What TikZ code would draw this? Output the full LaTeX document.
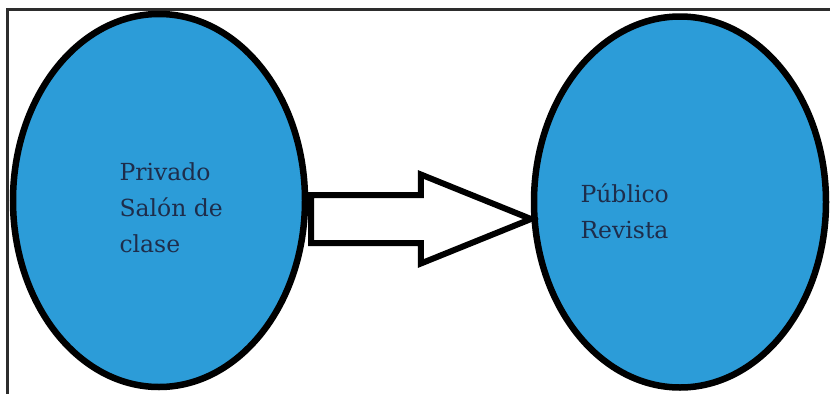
\documentclass[tikz,border=0pt]{standalone}
\usepackage{fontspec}
\setmainfont{DejaVu Serif}
\usetikzlibrary{shapes.geometric,shapes.arrows}
\definecolor{bluefill}{RGB}{44,156,216}
\definecolor{navytext}{RGB}{30,45,75}
\definecolor{framegray}{RGB}{45,45,45}
\tikzset{
  bubble/.style={ellipse, draw=black, fill=bluefill, line width=6.5pt, inner sep=0pt},
  bigarrow/.style={single arrow, draw=black, fill=white, line width=6pt, inner sep=0pt,
    outer sep=0pt, single arrow head extend=20.5pt, single arrow tip angle=44},
  lbl/.style={text=navytext, align=left, anchor=base west,
    font=\fontsize{23.5}{36}\selectfont},
  frameline/.style={draw=framegray, line width=3pt}
}
\begin{document}
\begin{tikzpicture}[x=1pt,y=-1pt]
\useasboundingbox (0,0) rectangle (830,394);
\coordinate (ftr) at (830,9);
\coordinate (ftl) at (7,9);
\coordinate (fbl) at (7,394);
\draw[frameline] (ftr) -- (ftl) -- (fbl);
\node[bubble, minimum width=292pt, minimum height=373pt] (priv) at (159,200.5) {};
\node[bubble, minimum width=292pt, minimum height=371pt] (pub) at (680,202) {};
\node[bigarrow, minimum height=220pt, anchor=tail] (arr) at (311,219) {\rule{0pt}{42pt}};
\node[lbl] (tpriv) at (116,252) {Privado\\Salón de\\clase};
\node[lbl] (tpub) at (577,238) {Público\\Revista};
\end{tikzpicture}
\end{document}
